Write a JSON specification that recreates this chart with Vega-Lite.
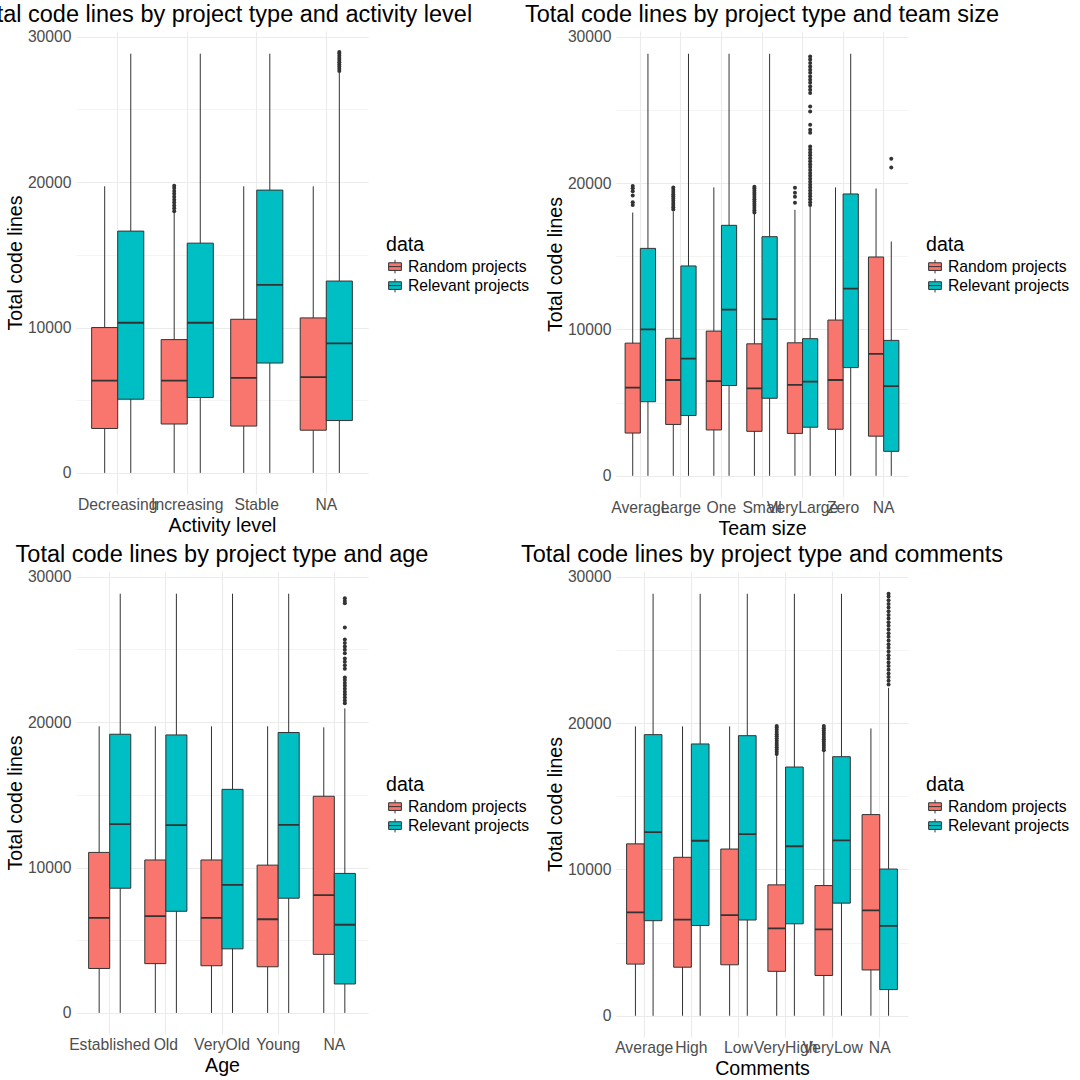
{
  "$schema": "https://vega.github.io/schema/vega-lite/v6.json",
  "autosize": {"type": "none"},
  "padding": {"left": 76, "top": 31, "right": 0, "bottom": 0},
  "params": [{"name": "width", "value": 1004}, {"name": "height", "value": 1049}],
  "background": "white",
  "bounds": "flush",
  "columns": 2,
  "spacing": {"row": 74, "column": 248},
  "resolve": {"scale": {"color": "independent", "xOffset": "independent"}, "legend": {"color": "independent"}},
  "config": {
    "font": "Liberation Sans",
    "view": {"stroke": null},
    "axis": {"domain": false, "ticks": false, "labelFont": "Liberation Sans", "labelFontSize": 15.7, "labelColor": "#4D4D4D", "titleFont": "Liberation Sans", "titleFontSize": 19.6, "titleFontWeight": "normal", "titleColor": "#000000", "gridColor": "#EBEBEB", "gridWidth": 1.1},
    "title": {"font": "Liberation Sans", "fontSize": 23.5, "fontWeight": "normal", "color": "#000000", "anchor": "middle", "frame": "group", "offset": 2},
    "legend": {"orient": "none", "legendX": 310, "legendY": 205, "padding": 0, "titleFont": "Liberation Sans", "titleFontSize": 19.6, "titleFontWeight": "normal", "titleColor": "#000000", "titlePadding": 2, "labelFont": "Liberation Sans", "labelFontSize": 15.7, "labelColor": "#000000", "labelOffset": 4, "rowPadding": 1, "symbolType": "M-0.75,-0.45H0.75V0.45H-0.75Z M-0.75,0H0.75 M0,-0.45V-0.8 M0,0.45V0.8", "symbolSize": 289, "symbolStrokeColor": "#333333", "symbolStrokeWidth": 1, "symbolOpacity": 1}
  },
  "datasets": {
    "p1b": [
      {"c": "Decreasing", "d": "Random projects", "lo": 0, "q1": 3057, "md": 6351, "q3": 10000, "hi": 19716},
      {"c": "Decreasing", "d": "Relevant projects", "lo": 0, "q1": 5071, "md": 10332, "q3": 16635, "hi": 28839},
      {"c": "Increasing", "d": "Random projects", "lo": 0, "q1": 3365, "md": 6351, "q3": 9171, "hi": 17900},
      {"c": "Increasing", "d": "Relevant projects", "lo": 0, "q1": 5190, "md": 10332, "q3": 15806, "hi": 28839},
      {"c": "Stable", "d": "Random projects", "lo": 0, "q1": 3223, "md": 6540, "q3": 10569, "hi": 19716},
      {"c": "Stable", "d": "Relevant projects", "lo": 0, "q1": 7559, "md": 12938, "q3": 19455, "hi": 28839},
      {"c": "NA", "d": "Random projects", "lo": 0, "q1": 2938, "md": 6588, "q3": 10664, "hi": 19716},
      {"c": "NA", "d": "Relevant projects", "lo": 0, "q1": 3602, "md": 8910, "q3": 13199, "hi": 27550}
    ],
    "p1o": [
      {"c": "Increasing", "d": "Random projects", "v": 18000},
      {"c": "Increasing", "d": "Random projects", "v": 18200},
      {"c": "Increasing", "d": "Random projects", "v": 18400},
      {"c": "Increasing", "d": "Random projects", "v": 18600},
      {"c": "Increasing", "d": "Random projects", "v": 18800},
      {"c": "Increasing", "d": "Random projects", "v": 19000},
      {"c": "Increasing", "d": "Random projects", "v": 19200},
      {"c": "Increasing", "d": "Random projects", "v": 19400},
      {"c": "Increasing", "d": "Random projects", "v": 19600},
      {"c": "Increasing", "d": "Random projects", "v": 19750},
      {"c": "NA", "d": "Relevant projects", "v": 27650},
      {"c": "NA", "d": "Relevant projects", "v": 27800},
      {"c": "NA", "d": "Relevant projects", "v": 27950},
      {"c": "NA", "d": "Relevant projects", "v": 28100},
      {"c": "NA", "d": "Relevant projects", "v": 28250},
      {"c": "NA", "d": "Relevant projects", "v": 28400},
      {"c": "NA", "d": "Relevant projects", "v": 28550},
      {"c": "NA", "d": "Relevant projects", "v": 28700},
      {"c": "NA", "d": "Relevant projects", "v": 28850},
      {"c": "NA", "d": "Relevant projects", "v": 28950}
    ],
    "p2b": [
      {"c": "Average", "d": "Random projects", "lo": 0, "q1": 2920, "md": 6028, "q3": 9066, "hi": 17991},
      {"c": "Average", "d": "Relevant projects", "lo": 0, "q1": 5063, "md": 10008, "q3": 15542, "hi": 28846},
      {"c": "Large", "d": "Random projects", "lo": 0, "q1": 3509, "md": 6546, "q3": 9396, "hi": 18061},
      {"c": "Large", "d": "Relevant projects", "lo": 0, "q1": 4121, "md": 8006, "q3": 14341, "hi": 28846},
      {"c": "One", "d": "Random projects", "lo": 0, "q1": 3132, "md": 6476, "q3": 9890, "hi": 19710},
      {"c": "One", "d": "Relevant projects", "lo": 0, "q1": 6170, "md": 11350, "q3": 17119, "hi": 28846},
      {"c": "Small", "d": "Random projects", "lo": 0, "q1": 3038, "md": 5981, "q3": 9019, "hi": 17943},
      {"c": "Small", "d": "Relevant projects", "lo": 0, "q1": 5298, "md": 10714, "q3": 16342, "hi": 28846},
      {"c": "VeryLarge", "d": "Random projects", "lo": 0, "q1": 2896, "md": 6217, "q3": 9089, "hi": 18179},
      {"c": "VeryLarge", "d": "Relevant projects", "lo": 0, "q1": 3320, "md": 6429, "q3": 9372, "hi": 18414},
      {"c": "Zero", "d": "Random projects", "lo": 0, "q1": 3179, "md": 6546, "q3": 10644, "hi": 19710},
      {"c": "Zero", "d": "Relevant projects", "lo": 0, "q1": 7394, "md": 12786, "q3": 19262, "hi": 28846},
      {"c": "NA", "d": "Random projects", "lo": 0, "q1": 2708, "md": 8336, "q3": 14953, "hi": 19639},
      {"c": "NA", "d": "Relevant projects", "lo": 0, "q1": 1672, "md": 6122, "q3": 9254, "hi": 16013}
    ],
    "p2o": [
      {"c": "Average", "d": "Random projects", "v": 18500},
      {"c": "Average", "d": "Random projects", "v": 18700},
      {"c": "Average", "d": "Random projects", "v": 19150},
      {"c": "Average", "d": "Random projects", "v": 19450},
      {"c": "Average", "d": "Random projects", "v": 19650},
      {"c": "Average", "d": "Random projects", "v": 19800},
      {"c": "Large", "d": "Random projects", "v": 18200},
      {"c": "Large", "d": "Random projects", "v": 18350},
      {"c": "Large", "d": "Random projects", "v": 18500},
      {"c": "Large", "d": "Random projects", "v": 18650},
      {"c": "Large", "d": "Random projects", "v": 18800},
      {"c": "Large", "d": "Random projects", "v": 18950},
      {"c": "Large", "d": "Random projects", "v": 19100},
      {"c": "Large", "d": "Random projects", "v": 19250},
      {"c": "Large", "d": "Random projects", "v": 19400},
      {"c": "Large", "d": "Random projects", "v": 19550},
      {"c": "Large", "d": "Random projects", "v": 19700},
      {"c": "Small", "d": "Random projects", "v": 18000},
      {"c": "Small", "d": "Random projects", "v": 18150},
      {"c": "Small", "d": "Random projects", "v": 18300},
      {"c": "Small", "d": "Random projects", "v": 18450},
      {"c": "Small", "d": "Random projects", "v": 18600},
      {"c": "Small", "d": "Random projects", "v": 18750},
      {"c": "Small", "d": "Random projects", "v": 18900},
      {"c": "Small", "d": "Random projects", "v": 19050},
      {"c": "Small", "d": "Random projects", "v": 19200},
      {"c": "Small", "d": "Random projects", "v": 19350},
      {"c": "Small", "d": "Random projects", "v": 19500},
      {"c": "Small", "d": "Random projects", "v": 19650},
      {"c": "Small", "d": "Random projects", "v": 19750},
      {"c": "VeryLarge", "d": "Random projects", "v": 18660},
      {"c": "VeryLarge", "d": "Random projects", "v": 19070},
      {"c": "VeryLarge", "d": "Random projects", "v": 19340},
      {"c": "VeryLarge", "d": "Random projects", "v": 19680},
      {"c": "VeryLarge", "d": "Relevant projects", "v": 18500},
      {"c": "VeryLarge", "d": "Relevant projects", "v": 18700},
      {"c": "VeryLarge", "d": "Relevant projects", "v": 18900},
      {"c": "VeryLarge", "d": "Relevant projects", "v": 19100},
      {"c": "VeryLarge", "d": "Relevant projects", "v": 19300},
      {"c": "VeryLarge", "d": "Relevant projects", "v": 19500},
      {"c": "VeryLarge", "d": "Relevant projects", "v": 19700},
      {"c": "VeryLarge", "d": "Relevant projects", "v": 19900},
      {"c": "VeryLarge", "d": "Relevant projects", "v": 20100},
      {"c": "VeryLarge", "d": "Relevant projects", "v": 20300},
      {"c": "VeryLarge", "d": "Relevant projects", "v": 20500},
      {"c": "VeryLarge", "d": "Relevant projects", "v": 20700},
      {"c": "VeryLarge", "d": "Relevant projects", "v": 20900},
      {"c": "VeryLarge", "d": "Relevant projects", "v": 21100},
      {"c": "VeryLarge", "d": "Relevant projects", "v": 21300},
      {"c": "VeryLarge", "d": "Relevant projects", "v": 21500},
      {"c": "VeryLarge", "d": "Relevant projects", "v": 21700},
      {"c": "VeryLarge", "d": "Relevant projects", "v": 21900},
      {"c": "VeryLarge", "d": "Relevant projects", "v": 22100},
      {"c": "VeryLarge", "d": "Relevant projects", "v": 22300},
      {"c": "VeryLarge", "d": "Relevant projects", "v": 22500},
      {"c": "VeryLarge", "d": "Relevant projects", "v": 23440},
      {"c": "VeryLarge", "d": "Relevant projects", "v": 23650},
      {"c": "VeryLarge", "d": "Relevant projects", "v": 23990},
      {"c": "VeryLarge", "d": "Relevant projects", "v": 24900},
      {"c": "VeryLarge", "d": "Relevant projects", "v": 25240},
      {"c": "VeryLarge", "d": "Relevant projects", "v": 26170},
      {"c": "VeryLarge", "d": "Relevant projects", "v": 26380},
      {"c": "VeryLarge", "d": "Relevant projects", "v": 26600},
      {"c": "VeryLarge", "d": "Relevant projects", "v": 26860},
      {"c": "VeryLarge", "d": "Relevant projects", "v": 27060},
      {"c": "VeryLarge", "d": "Relevant projects", "v": 27290},
      {"c": "VeryLarge", "d": "Relevant projects", "v": 27540},
      {"c": "VeryLarge", "d": "Relevant projects", "v": 27750},
      {"c": "VeryLarge", "d": "Relevant projects", "v": 27970},
      {"c": "VeryLarge", "d": "Relevant projects", "v": 28220},
      {"c": "VeryLarge", "d": "Relevant projects", "v": 28450},
      {"c": "VeryLarge", "d": "Relevant projects", "v": 28650},
      {"c": "NA", "d": "Relevant projects", "v": 21075},
      {"c": "NA", "d": "Relevant projects", "v": 21664}
    ],
    "p3b": [
      {"c": "Established", "d": "Random projects", "lo": 0, "q1": 3057, "md": 6540, "q3": 11043, "hi": 19716},
      {"c": "Established", "d": "Relevant projects", "lo": 0, "q1": 8578, "md": 12986, "q3": 19171, "hi": 28839},
      {"c": "Old", "d": "Random projects", "lo": 0, "q1": 3389, "md": 6659, "q3": 10521, "hi": 19716},
      {"c": "Old", "d": "Relevant projects", "lo": 0, "q1": 6991, "md": 12915, "q3": 19123, "hi": 28839},
      {"c": "VeryOld", "d": "Random projects", "lo": 0, "q1": 3246, "md": 6540, "q3": 10521, "hi": 19716},
      {"c": "VeryOld", "d": "Relevant projects", "lo": 0, "q1": 4408, "md": 8815, "q3": 15379, "hi": 28839},
      {"c": "Young", "d": "Random projects", "lo": 0, "q1": 3175, "md": 6445, "q3": 10166, "hi": 19716},
      {"c": "Young", "d": "Relevant projects", "lo": 0, "q1": 7891, "md": 12938, "q3": 19289, "hi": 28839},
      {"c": "NA", "d": "Random projects", "lo": 0, "q1": 4028, "md": 8104, "q3": 14905, "hi": 19645},
      {"c": "NA", "d": "Relevant projects", "lo": 0, "q1": 1991, "md": 6066, "q3": 9597, "hi": 20950}
    ],
    "p3o": [
      {"c": "NA", "d": "Relevant projects", "v": 21300},
      {"c": "NA", "d": "Relevant projects", "v": 21500},
      {"c": "NA", "d": "Relevant projects", "v": 21700},
      {"c": "NA", "d": "Relevant projects", "v": 21900},
      {"c": "NA", "d": "Relevant projects", "v": 22100},
      {"c": "NA", "d": "Relevant projects", "v": 22300},
      {"c": "NA", "d": "Relevant projects", "v": 22500},
      {"c": "NA", "d": "Relevant projects", "v": 22700},
      {"c": "NA", "d": "Relevant projects", "v": 22900},
      {"c": "NA", "d": "Relevant projects", "v": 23080},
      {"c": "NA", "d": "Relevant projects", "v": 23670},
      {"c": "NA", "d": "Relevant projects", "v": 23910},
      {"c": "NA", "d": "Relevant projects", "v": 24150},
      {"c": "NA", "d": "Relevant projects", "v": 24380},
      {"c": "NA", "d": "Relevant projects", "v": 24740},
      {"c": "NA", "d": "Relevant projects", "v": 24980},
      {"c": "NA", "d": "Relevant projects", "v": 25210},
      {"c": "NA", "d": "Relevant projects", "v": 25450},
      {"c": "NA", "d": "Relevant projects", "v": 25690},
      {"c": "NA", "d": "Relevant projects", "v": 26520},
      {"c": "NA", "d": "Relevant projects", "v": 28180},
      {"c": "NA", "d": "Relevant projects", "v": 28340},
      {"c": "NA", "d": "Relevant projects", "v": 28530}
    ],
    "p4b": [
      {"c": "Average", "d": "Random projects", "lo": 0, "q1": 3532, "md": 7064, "q3": 11750, "hi": 19780},
      {"c": "Average", "d": "Relevant projects", "lo": 0, "q1": 6499, "md": 12551, "q3": 19215, "hi": 28846},
      {"c": "High", "d": "Random projects", "lo": 0, "q1": 3320, "md": 6570, "q3": 10832, "hi": 19780},
      {"c": "High", "d": "Relevant projects", "lo": 0, "q1": 6170, "md": 11962, "q3": 18579, "hi": 28846},
      {"c": "Low", "d": "Random projects", "lo": 0, "q1": 3485, "md": 6876, "q3": 11397, "hi": 19780},
      {"c": "Low", "d": "Relevant projects", "lo": 0, "q1": 6546, "md": 12410, "q3": 19144, "hi": 28846},
      {"c": "VeryHigh", "d": "Random projects", "lo": 0, "q1": 3038, "md": 5981, "q3": 8948, "hi": 17826},
      {"c": "VeryHigh", "d": "Relevant projects", "lo": 0, "q1": 6287, "md": 11586, "q3": 17001, "hi": 28846},
      {"c": "VeryLow", "d": "Random projects", "lo": 0, "q1": 2755, "md": 5911, "q3": 8901, "hi": 18061},
      {"c": "VeryLow", "d": "Relevant projects", "lo": 0, "q1": 7700, "md": 11986, "q3": 17708, "hi": 28846},
      {"c": "NA", "d": "Random projects", "lo": 0, "q1": 3132, "md": 7206, "q3": 13752, "hi": 19639},
      {"c": "NA", "d": "Relevant projects", "lo": 0, "q1": 1790, "md": 6146, "q3": 10031, "hi": 22418}
    ],
    "p4o": [
      {"c": "VeryHigh", "d": "Random projects", "v": 17900},
      {"c": "VeryHigh", "d": "Random projects", "v": 18050},
      {"c": "VeryHigh", "d": "Random projects", "v": 18200},
      {"c": "VeryHigh", "d": "Random projects", "v": 18350},
      {"c": "VeryHigh", "d": "Random projects", "v": 18500},
      {"c": "VeryHigh", "d": "Random projects", "v": 18650},
      {"c": "VeryHigh", "d": "Random projects", "v": 18800},
      {"c": "VeryHigh", "d": "Random projects", "v": 18950},
      {"c": "VeryHigh", "d": "Random projects", "v": 19100},
      {"c": "VeryHigh", "d": "Random projects", "v": 19250},
      {"c": "VeryHigh", "d": "Random projects", "v": 19400},
      {"c": "VeryHigh", "d": "Random projects", "v": 19550},
      {"c": "VeryHigh", "d": "Random projects", "v": 19700},
      {"c": "VeryHigh", "d": "Random projects", "v": 19800},
      {"c": "VeryLow", "d": "Random projects", "v": 18150},
      {"c": "VeryLow", "d": "Random projects", "v": 18300},
      {"c": "VeryLow", "d": "Random projects", "v": 18450},
      {"c": "VeryLow", "d": "Random projects", "v": 18600},
      {"c": "VeryLow", "d": "Random projects", "v": 18750},
      {"c": "VeryLow", "d": "Random projects", "v": 18900},
      {"c": "VeryLow", "d": "Random projects", "v": 19050},
      {"c": "VeryLow", "d": "Random projects", "v": 19200},
      {"c": "VeryLow", "d": "Random projects", "v": 19350},
      {"c": "VeryLow", "d": "Random projects", "v": 19500},
      {"c": "VeryLow", "d": "Random projects", "v": 19650},
      {"c": "VeryLow", "d": "Random projects", "v": 19800},
      {"c": "NA", "d": "Relevant projects", "v": 22650},
      {"c": "NA", "d": "Relevant projects", "v": 22900},
      {"c": "NA", "d": "Relevant projects", "v": 23150},
      {"c": "NA", "d": "Relevant projects", "v": 23400},
      {"c": "NA", "d": "Relevant projects", "v": 23650},
      {"c": "NA", "d": "Relevant projects", "v": 23900},
      {"c": "NA", "d": "Relevant projects", "v": 24150},
      {"c": "NA", "d": "Relevant projects", "v": 24400},
      {"c": "NA", "d": "Relevant projects", "v": 24650},
      {"c": "NA", "d": "Relevant projects", "v": 24900},
      {"c": "NA", "d": "Relevant projects", "v": 25150},
      {"c": "NA", "d": "Relevant projects", "v": 25400},
      {"c": "NA", "d": "Relevant projects", "v": 25650},
      {"c": "NA", "d": "Relevant projects", "v": 25900},
      {"c": "NA", "d": "Relevant projects", "v": 26150},
      {"c": "NA", "d": "Relevant projects", "v": 26400},
      {"c": "NA", "d": "Relevant projects", "v": 26650},
      {"c": "NA", "d": "Relevant projects", "v": 26900},
      {"c": "NA", "d": "Relevant projects", "v": 27150},
      {"c": "NA", "d": "Relevant projects", "v": 27400},
      {"c": "NA", "d": "Relevant projects", "v": 27650},
      {"c": "NA", "d": "Relevant projects", "v": 27900},
      {"c": "NA", "d": "Relevant projects", "v": 28150},
      {"c": "NA", "d": "Relevant projects", "v": 28400},
      {"c": "NA", "d": "Relevant projects", "v": 28650},
      {"c": "NA", "d": "Relevant projects", "v": 28850}
    ]
  },
  "concat": [
    {
      "width": 292, "height": 463,
      "title": "Total code lines by project type and activity level",
      "layer": [
        {"data": {"name": "p1b"}, "mark": {"type": "rule", "color": "#333333", "strokeWidth": 1},
         "encoding": {
           "x": {"field": "c", "type": "nominal", "title": "Activity level", "scale": {"domain": ["Decreasing", "Increasing", "Stable", "NA"], "paddingInner": 0, "paddingOuter": 0.1}, "axis": {"grid": true, "bandPosition": 0.5, "labelOverlap": false, "labelBound": false, "labelFlush": false, "labelAngle": 0, "labelPadding": 3, "titlePadding": 5}},
           "xOffset": {"field": "d", "type": "nominal", "scale": {"domain": ["Random projects", "Relevant projects"], "paddingInner": 0, "paddingOuter": 0.3333}},
           "y": {"field": "lo", "type": "quantitative", "title": "Total code lines", "scale": {"domain": [-1450, 30400], "nice": false, "zero": false}, "axis": {"values": [0, 5000, 10000, 15000, 20000, 25000, 30000], "format": "d", "labelExpr": "datum.value % 10000 === 0 ? datum.label : ''", "gridWidth": {"condition": {"test": "datum.value % 10000 === 0", "value": 1.1}, "value": 0.55}, "labelPadding": 5, "titlePadding": 2}},
           "y2": {"field": "hi"}
         }},
        {"data": {"name": "p1b"}, "mark": {"type": "bar", "stroke": "#333333", "strokeWidth": 1, "opacity": 1},
         "encoding": {
           "x": {"field": "c", "type": "nominal", "title": "Activity level"},
           "xOffset": {"field": "d", "type": "nominal"},
           "y": {"field": "q1", "type": "quantitative", "title": "Total code lines"},
           "y2": {"field": "q3"},
           "color": {"field": "d", "type": "nominal", "title": "data", "scale": {"domain": ["Random projects", "Relevant projects"], "range": ["#F8766D", "#00BFC4"]}}
         }},
        {"data": {"name": "p1b"}, "mark": {"type": "bar", "stroke": "#333333", "strokeWidth": 1.8, "fill": "#333333"},
         "encoding": {
           "x": {"field": "c", "type": "nominal", "title": "Activity level"},
           "xOffset": {"field": "d", "type": "nominal"},
           "y": {"field": "md", "type": "quantitative", "title": "Total code lines"},
           "y2": {"field": "md"}
         }},
        {"data": {"name": "p1o"}, "mark": {"type": "circle", "color": "#333333", "size": 16, "opacity": 1},
         "encoding": {
           "x": {"field": "c", "type": "nominal", "title": "Activity level"},
           "xOffset": {"field": "d", "type": "nominal"},
           "y": {"field": "v", "type": "quantitative", "title": "Total code lines"}
         }}
      ]
    },
    {
      "width": 292, "height": 466,
      "title": "Total code lines by project type and team size",
      "layer": [
        {"data": {"name": "p2b"}, "mark": {"type": "rule", "color": "#333333", "strokeWidth": 1},
         "encoding": {
           "x": {"field": "c", "type": "nominal", "title": "Team size", "scale": {"domain": ["Average", "Large", "One", "Small", "VeryLarge", "Zero", "NA"], "paddingInner": 0, "paddingOuter": 0.1}, "axis": {"grid": true, "bandPosition": 0.5, "labelOverlap": false, "labelBound": false, "labelFlush": false, "labelAngle": 0, "labelPadding": 3, "titlePadding": 5}},
           "xOffset": {"field": "d", "type": "nominal", "scale": {"domain": ["Random projects", "Relevant projects"], "paddingInner": 0, "paddingOuter": 0.3333}},
           "y": {"field": "lo", "type": "quantitative", "title": "Total code lines", "scale": {"domain": [-1450, 30400], "nice": false, "zero": false}, "axis": {"values": [0, 5000, 10000, 15000, 20000, 25000, 30000], "format": "d", "labelExpr": "datum.value % 10000 === 0 ? datum.label : ''", "gridWidth": {"condition": {"test": "datum.value % 10000 === 0", "value": 1.1}, "value": 0.55}, "labelPadding": 5, "titlePadding": 2}},
           "y2": {"field": "hi"}
         }},
        {"data": {"name": "p2b"}, "mark": {"type": "bar", "stroke": "#333333", "strokeWidth": 1, "opacity": 1},
         "encoding": {
           "x": {"field": "c", "type": "nominal", "title": "Team size"},
           "xOffset": {"field": "d", "type": "nominal"},
           "y": {"field": "q1", "type": "quantitative", "title": "Total code lines"},
           "y2": {"field": "q3"},
           "color": {"field": "d", "type": "nominal", "title": "data", "scale": {"domain": ["Random projects", "Relevant projects"], "range": ["#F8766D", "#00BFC4"]}}
         }},
        {"data": {"name": "p2b"}, "mark": {"type": "bar", "stroke": "#333333", "strokeWidth": 1.8, "fill": "#333333"},
         "encoding": {
           "x": {"field": "c", "type": "nominal", "title": "Team size"},
           "xOffset": {"field": "d", "type": "nominal"},
           "y": {"field": "md", "type": "quantitative", "title": "Total code lines"},
           "y2": {"field": "md"}
         }},
        {"data": {"name": "p2o"}, "mark": {"type": "circle", "color": "#333333", "size": 16, "opacity": 1},
         "encoding": {
           "x": {"field": "c", "type": "nominal", "title": "Team size"},
           "xOffset": {"field": "d", "type": "nominal"},
           "y": {"field": "v", "type": "quantitative", "title": "Total code lines"}
         }}
      ]
    },
    {
      "width": 292, "height": 463,
      "title": "Total code lines by project type and age",
      "layer": [
        {"data": {"name": "p3b"}, "mark": {"type": "rule", "color": "#333333", "strokeWidth": 1},
         "encoding": {
           "x": {"field": "c", "type": "nominal", "title": "Age", "scale": {"domain": ["Established", "Old", "VeryOld", "Young", "NA"], "paddingInner": 0, "paddingOuter": 0.1}, "axis": {"grid": true, "bandPosition": 0.5, "labelOverlap": false, "labelBound": false, "labelFlush": false, "labelAngle": 0, "labelPadding": 3, "titlePadding": 5}},
           "xOffset": {"field": "d", "type": "nominal", "scale": {"domain": ["Random projects", "Relevant projects"], "paddingInner": 0, "paddingOuter": 0.3333}},
           "y": {"field": "lo", "type": "quantitative", "title": "Total code lines", "scale": {"domain": [-1450, 30400], "nice": false, "zero": false}, "axis": {"values": [0, 5000, 10000, 15000, 20000, 25000, 30000], "format": "d", "labelExpr": "datum.value % 10000 === 0 ? datum.label : ''", "gridWidth": {"condition": {"test": "datum.value % 10000 === 0", "value": 1.1}, "value": 0.55}, "labelPadding": 5, "titlePadding": 2}},
           "y2": {"field": "hi"}
         }},
        {"data": {"name": "p3b"}, "mark": {"type": "bar", "stroke": "#333333", "strokeWidth": 1, "opacity": 1},
         "encoding": {
           "x": {"field": "c", "type": "nominal", "title": "Age"},
           "xOffset": {"field": "d", "type": "nominal"},
           "y": {"field": "q1", "type": "quantitative", "title": "Total code lines"},
           "y2": {"field": "q3"},
           "color": {"field": "d", "type": "nominal", "title": "data", "scale": {"domain": ["Random projects", "Relevant projects"], "range": ["#F8766D", "#00BFC4"]}}
         }},
        {"data": {"name": "p3b"}, "mark": {"type": "bar", "stroke": "#333333", "strokeWidth": 1.8, "fill": "#333333"},
         "encoding": {
           "x": {"field": "c", "type": "nominal", "title": "Age"},
           "xOffset": {"field": "d", "type": "nominal"},
           "y": {"field": "md", "type": "quantitative", "title": "Total code lines"},
           "y2": {"field": "md"}
         }},
        {"data": {"name": "p3o"}, "mark": {"type": "circle", "color": "#333333", "size": 16, "opacity": 1},
         "encoding": {
           "x": {"field": "c", "type": "nominal", "title": "Age"},
           "xOffset": {"field": "d", "type": "nominal"},
           "y": {"field": "v", "type": "quantitative", "title": "Total code lines"}
         }}
      ]
    },
    {
      "width": 292, "height": 466,
      "title": "Total code lines by project type and comments",
      "layer": [
        {"data": {"name": "p4b"}, "mark": {"type": "rule", "color": "#333333", "strokeWidth": 1},
         "encoding": {
           "x": {"field": "c", "type": "nominal", "title": "Comments", "scale": {"domain": ["Average", "High", "Low", "VeryHigh", "VeryLow", "NA"], "paddingInner": 0, "paddingOuter": 0.1}, "axis": {"grid": true, "bandPosition": 0.5, "labelOverlap": false, "labelBound": false, "labelFlush": false, "labelAngle": 0, "labelPadding": 3, "titlePadding": 5}},
           "xOffset": {"field": "d", "type": "nominal", "scale": {"domain": ["Random projects", "Relevant projects"], "paddingInner": 0, "paddingOuter": 0.3333}},
           "y": {"field": "lo", "type": "quantitative", "title": "Total code lines", "scale": {"domain": [-1450, 30400], "nice": false, "zero": false}, "axis": {"values": [0, 5000, 10000, 15000, 20000, 25000, 30000], "format": "d", "labelExpr": "datum.value % 10000 === 0 ? datum.label : ''", "gridWidth": {"condition": {"test": "datum.value % 10000 === 0", "value": 1.1}, "value": 0.55}, "labelPadding": 5, "titlePadding": 2}},
           "y2": {"field": "hi"}
         }},
        {"data": {"name": "p4b"}, "mark": {"type": "bar", "stroke": "#333333", "strokeWidth": 1, "opacity": 1},
         "encoding": {
           "x": {"field": "c", "type": "nominal", "title": "Comments"},
           "xOffset": {"field": "d", "type": "nominal"},
           "y": {"field": "q1", "type": "quantitative", "title": "Total code lines"},
           "y2": {"field": "q3"},
           "color": {"field": "d", "type": "nominal", "title": "data", "scale": {"domain": ["Random projects", "Relevant projects"], "range": ["#F8766D", "#00BFC4"]}}
         }},
        {"data": {"name": "p4b"}, "mark": {"type": "bar", "stroke": "#333333", "strokeWidth": 1.8, "fill": "#333333"},
         "encoding": {
           "x": {"field": "c", "type": "nominal", "title": "Comments"},
           "xOffset": {"field": "d", "type": "nominal"},
           "y": {"field": "md", "type": "quantitative", "title": "Total code lines"},
           "y2": {"field": "md"}
         }},
        {"data": {"name": "p4o"}, "mark": {"type": "circle", "color": "#333333", "size": 16, "opacity": 1},
         "encoding": {
           "x": {"field": "c", "type": "nominal", "title": "Comments"},
           "xOffset": {"field": "d", "type": "nominal"},
           "y": {"field": "v", "type": "quantitative", "title": "Total code lines"}
         }}
      ]
    }
  ]
}
